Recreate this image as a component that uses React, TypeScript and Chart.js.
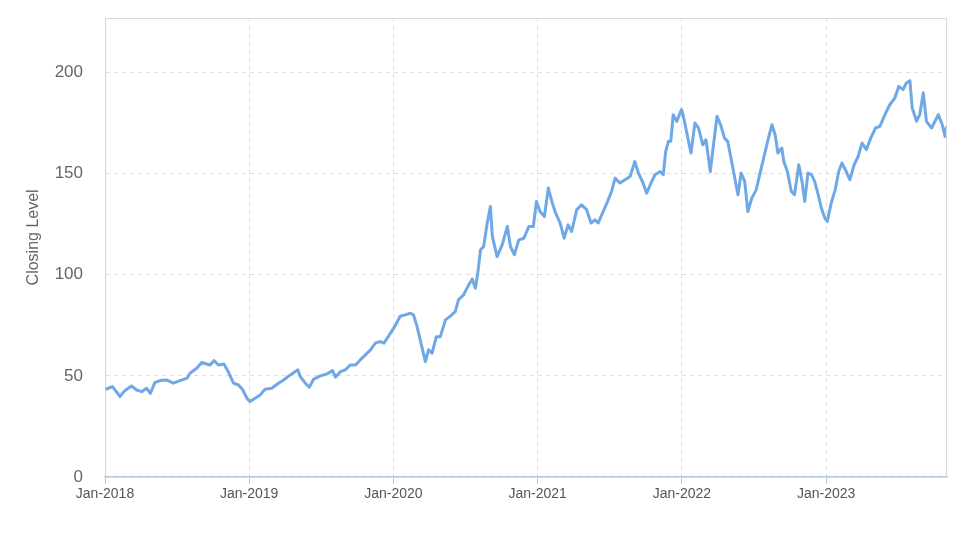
import React, { useEffect, useRef } from "react";
import { Chart, registerables } from "chart.js";

Chart.register(...registerables);

const dates: string[] = [
  "2018-01-03","2018-01-20","2018-02-08","2018-02-20","2018-03-09","2018-03-22","2018-04-04","2018-04-16","2018-04-26","2018-05-07",
  "2018-05-20","2018-06-06","2018-06-23","2018-07-10","2018-07-28","2018-08-04","2018-08-21","2018-09-03","2018-09-15","2018-09-24",
  "2018-10-04","2018-10-15","2018-10-29","2018-11-09","2018-11-22","2018-12-05","2018-12-16","2018-12-26",
  "2019-01-03","2019-01-08","2019-01-16","2019-01-29","2019-02-10","2019-02-27","2019-03-16","2019-03-29","2019-04-15","2019-05-04",
  "2019-05-10","2019-05-23","2019-06-02","2019-06-13","2019-06-30","2019-07-17","2019-07-31","2019-08-07","2019-08-20","2019-09-01",
  "2019-09-14","2019-09-27","2019-10-09","2019-10-22","2019-11-04","2019-11-16","2019-11-29","2019-12-08","2019-12-20",
  "2020-01-06","2020-01-18","2020-01-31","2020-02-13","2020-02-21","2020-03-01","2020-03-07","2020-03-13","2020-03-22","2020-03-30",
  "2020-04-08","2020-04-19","2020-04-29","2020-05-12","2020-05-25","2020-06-06","2020-06-14","2020-06-27","2020-07-10","2020-07-19",
  "2020-07-27","2020-08-02","2020-08-09","2020-08-17","2020-08-26","2020-09-03","2020-09-08","2020-09-20","2020-10-03","2020-10-16",
  "2020-10-24","2020-11-03","2020-11-14","2020-11-27","2020-12-10","2020-12-21","2020-12-29",
  "2021-01-07","2021-01-18","2021-01-28","2021-02-06","2021-02-14","2021-02-27","2021-03-09","2021-03-19","2021-03-28","2021-04-10",
  "2021-04-22","2021-05-05","2021-05-16","2021-05-26","2021-06-03","2021-06-16","2021-06-27","2021-07-07","2021-07-16","2021-07-28",
  "2021-08-10","2021-08-23","2021-09-04","2021-09-13","2021-09-23","2021-10-04","2021-10-15","2021-10-25","2021-11-07","2021-11-15",
  "2021-11-21","2021-11-28","2021-12-04","2021-12-10","2021-12-19","2021-12-31",
  "2022-01-03","2022-01-11","2022-01-24","2022-02-03","2022-02-12","2022-02-23","2022-03-03","2022-03-14","2022-03-22","2022-03-31",
  "2022-04-09","2022-04-19","2022-04-27","2022-05-07","2022-05-18","2022-05-23","2022-05-31","2022-06-09","2022-06-17","2022-06-27",
  "2022-07-08","2022-07-17","2022-07-31","2022-08-08","2022-08-17","2022-08-25","2022-09-01","2022-09-11","2022-09-16","2022-09-25",
  "2022-10-05","2022-10-13","2022-10-24","2022-11-01","2022-11-08","2022-11-16","2022-11-25","2022-12-03","2022-12-12","2022-12-20",
  "2022-12-29",
  "2023-01-04","2023-01-14","2023-01-24","2023-02-02","2023-02-10","2023-02-21","2023-03-02","2023-03-13","2023-03-23","2023-04-02",
  "2023-04-13","2023-04-24","2023-05-06","2023-05-17","2023-05-30","2023-06-11","2023-06-24","2023-07-04","2023-07-15","2023-07-23",
  "2023-08-01","2023-08-07","2023-08-18","2023-08-26","2023-09-04","2023-09-12","2023-09-25","2023-10-12","2023-10-22","2023-10-29",
  "2023-11-02"
];

const closes: number[] = [
  43.4,44.7,39.8,42.7,45.0,43.0,42.2,43.9,41.4,46.7,
  47.7,48.0,46.4,47.7,48.9,51.3,53.8,56.6,55.9,55.4,
  57.6,55.4,55.9,52.1,46.4,45.5,43.0,39.0,
  37.3,38.0,39.0,40.6,43.4,43.9,46.4,48.0,50.5,53.0,
  49.7,46.4,44.4,48.4,50.0,51.0,52.6,49.4,52.1,53.0,
  55.4,55.4,57.9,60.4,62.9,66.2,67.0,66.2,69.8,
  75.0,79.5,80.2,81.0,80.2,74.4,69.4,64.5,57.1,62.9,
  61.2,69.4,69.4,77.7,79.7,81.8,87.6,90.1,95.0,97.9,
  93.4,100.8,112.4,114.0,125.6,133.8,119.0,109.0,114.8,123.9,
  114.0,109.9,117.3,118.1,123.9,123.9,136.3,
  131.3,128.8,142.9,136.3,131.3,125.6,118.1,124.7,121.4,132.2,
  134.6,132.2,125.6,127.2,125.6,131.3,136.3,141.2,147.8,145.4,
  147.0,148.6,156.0,150.3,146.2,140.4,145.4,149.5,151.1,149.5,
  161.0,166.0,166.0,179.2,175.9,181.7,
  180.0,172.6,160.2,175.1,172.6,164.3,166.8,151.1,164.3,178.4,
  174.2,167.6,166.0,156.0,144.5,139.6,150.3,146.2,131.3,137.9,
  142.0,149.5,161.0,167.6,174.2,169.3,160.2,162.7,156.0,151.1,
  141.2,139.6,154.4,146.2,136.3,150.3,149.5,146.2,139.6,133.0,
  128.0,
  126.4,135.5,142.0,151.1,155.3,151.1,147.0,154.4,158.5,165.2,
  161.9,167.6,172.6,173.4,179.2,184.1,187.4,193.2,191.6,194.9,
  196.0,182.5,175.9,179.2,190.0,175.9,172.6,179.2,174.2,168.4,
  173.4
];

const yearTicks: number[] = [2018, 2019, 2020, 2021, 2022, 2023];
const yTicks: number[] = [0, 50, 100, 150, 200];
const yTitle = "Closing Level";
const xStart = "2018-01-01";
const xEnd = "2023-11-03";
const yMax = 227;

const FONT = "'Liberation Sans', Arial, sans-serif";

function toYear(s: string): number {
  const [y, m, d] = s.split("-").map(Number);
  const t = Date.UTC(y, m - 1, d);
  const a = Date.UTC(y, 0, 1);
  const b = Date.UTC(y + 1, 0, 1);
  return y + (t - a) / (b - a);
}

const framePlugin = {
  id: "frame",
  afterDraw(chart: any) {
    const { ctx, chartArea } = chart;
    ctx.save();
    ctx.strokeStyle = "#d3d8e2";
    ctx.lineWidth = 1;
    ctx.setLineDash([]);
    ctx.beginPath();
    ctx.moveTo(chartArea.left, chartArea.top + 0.5);
    ctx.lineTo(chartArea.right - 0.5, chartArea.top + 0.5);
    ctx.lineTo(chartArea.right - 0.5, chartArea.bottom);
    ctx.stroke();
    // y-axis title, placed slightly above the plot's vertical centre
    const cy = chartArea.top + (chartArea.bottom - chartArea.top) * 0.478;
    ctx.translate(34, cy);
    ctx.rotate(-Math.PI / 2);
    ctx.fillStyle = "#666";
    ctx.font = "16px " + FONT;
    ctx.textAlign = "center";
    ctx.textBaseline = "middle";
    ctx.fillText(yTitle, 0, 0);
    ctx.restore();
  },
};

export default function App() {
  const ref = useRef<HTMLCanvasElement | null>(null);

  useEffect(() => {
    if (!ref.current) return;
    const points = dates.map((d, i) => ({ x: toYear(d), y: closes[i] }));
    const chart = new Chart(ref.current, {
      type: "line",
      data: {
        datasets: [
          {
            data: points,
            borderColor: "#6fa8e6",
            borderWidth: 3,
            pointRadius: 0,
            tension: 0,
            fill: false,
            borderJoinStyle: "round",
          },
        ],
      },
      options: {
        animation: false,
        responsive: false,
        maintainAspectRatio: false,
        layout: { padding: { top: 18, right: 26, bottom: 0, left: 0 } },
        plugins: { legend: { display: false }, tooltip: { enabled: false } },
        scales: {
          x: {
            type: "linear",
            min: toYear(xStart),
            max: toYear(xEnd),
            afterFit: (scale: any) => { scale.height = 70; },
            afterBuildTicks: (scale: any) => {
              scale.ticks = yearTicks.map((v) => ({ value: v }));
            },
            ticks: {
              includeBounds: false,
              autoSkip: false,
              maxRotation: 0,
              padding: 2,
              color: "#555",
              font: { family: FONT, size: 14 },
              callback: (v: any) => "Jan-" + Math.round(Number(v)),
            },
            grid: {
              color: "#dedede",
              tickBorderDash: [],
              tickColor: "#b9c8e0",
              tickLength: 7,
              drawTicks: true,
            } as any,
            border: { color: "#b9c8e0", width: 1.5, dash: [4, 4] } as any,
          },
          y: {
            min: 0,
            max: yMax,
            afterFit: (scale: any) => {
              scale.width = 105;
              scale.paddingTop = 0;
              scale.paddingBottom = 0;
            },
            afterBuildTicks: (scale: any) => {
              scale.ticks = yTicks.map((v) => ({ value: v }));
            },
            ticks: {
              includeBounds: false,
              padding: 22,
              color: "#666",
              font: { family: FONT, size: 17 },
            },
            grid: {
              color: "#dedede",
              drawTicks: false,
            },
            border: { color: "#cfd5e0", width: 1, dash: [4, 4] } as any,
            title: { display: false, text: yTitle },
          },
        },
      } as any,
      plugins: [framePlugin],
    });
    return () => chart.destroy();
  }, []);

  return (
    <div style={{ position: "fixed", left: 0, top: 0, width: 973, height: 547, background: "#fff" }}>
      <canvas ref={ref} width={973} height={547} style={{ width: 973, height: 547, display: "block" }} />
    </div>
  );
}
